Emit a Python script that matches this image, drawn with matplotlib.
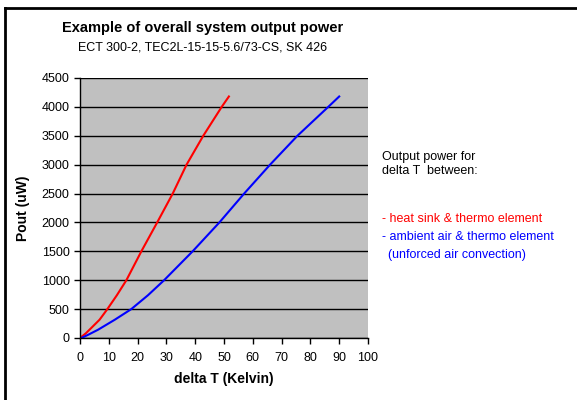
import matplotlib
matplotlib.use("Agg")
import matplotlib.pyplot as plt
from matplotlib.lines import Line2D

plt.rcParams['font.family'] = ['Liberation Sans', 'DejaVu Sans']

# Data (delta T in Kelvin, Pout in uW)
red_dt = [0, 2.0, 3.9, 6.8, 9.5, 12.8, 16.1, 21.3, 26.8, 32.2, 37.0, 42.8, 49.2, 51.7]
red_p = [0, 80, 173, 317, 500, 740, 1000, 1500, 2000, 2500, 3000, 3500, 4000, 4180]
blue_dt = [0.5, 3.0, 6.3, 12.1, 17.8, 23.6, 29.2, 39.1, 48.4, 57.0, 66.0, 75.5, 86.2, 90.0]
blue_p = [0, 60, 144, 317, 500, 740, 1000, 1500, 2000, 2500, 3000, 3500, 4000, 4180]

x_ticks = list(range(0, 101, 10))
y_ticks = list(range(0, 4501, 500))

fig = plt.figure(figsize=(5.77, 4.0), dpi=100)
ax = fig.add_axes([80/577, 1 - 338/400, (368-80)/577, (338-78)/400])
ax.set_facecolor('#c0c0c0')
ax.plot(red_dt, red_p, color='#ff0000', lw=1.5)
ax.plot(blue_dt, blue_p, color='#0000ff', lw=1.5)
ax.set_xlim(0, 100)
ax.set_ylim(0, 4500)
ax.set_xticks(x_ticks)
ax.set_yticks(y_ticks)
ax.yaxis.grid(True, color='black', lw=1)
ax.set_axisbelow(True)
for s in ['top', 'right']:
    ax.spines[s].set_visible(False)
for s in ['left', 'bottom']:
    ax.spines[s].set_color('black')
    ax.spines[s].set_linewidth(1)
ax.tick_params(direction='out', length=4, width=1, labelsize=9, colors='black')
ax.tick_params(axis='x', pad=6)
ax.set_xlabel('delta T (Kelvin)', fontsize=10, fontweight='bold', labelpad=6)
ax.set_ylabel('Pout (uW)', fontsize=10, fontweight='bold', labelpad=8)

fig.text(203/577, 1 - 28/400, 'Example of overall system output power',
         ha='center', va='center', fontsize=10.5, fontweight='bold')
fig.text(203/577, 1 - 47/400, 'ECT 300-2, TEC2L-15-15-5.6/73-CS, SK 426',
         ha='center', va='center', fontsize=9)

fig.text(382/577, 1 - 164/400, 'Output power for\ndelta T  between:',
         ha='left', va='center', fontsize=9, linespacing=1.3)
fig.text(382/577, 1 - 219/400, '- heat sink & thermo element',
         ha='left', va='center', fontsize=9, color='#ff0000')
fig.text(382/577, 1 - 237/400, '- ambient air & thermo element',
         ha='left', va='center', fontsize=9, color='#0000ff')
fig.text(388/577, 1 - 255/400, '(unforced air convection)',
         ha='left', va='center', fontsize=9, color='#0000ff')

# figure frame (top and left edges)
fig.add_artist(Line2D([5/577, 1], [1 - 8/400, 1 - 8/400], color='black', lw=2, transform=fig.transFigure))
fig.add_artist(Line2D([5/577, 5/577], [0, 1 - 8/400], color='black', lw=2, transform=fig.transFigure))

fig.savefig('out.png', dpi=100)
